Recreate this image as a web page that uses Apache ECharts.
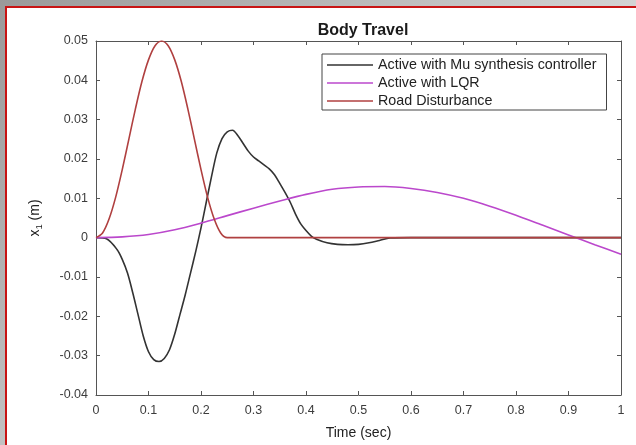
<!DOCTYPE html>
<html>
<head>
<meta charset="utf-8">
<script src="https://cdn.jsdelivr.net/npm/echarts@6/dist/echarts.min.js"></script>
<style>
  html, body { margin: 0; padding: 0; }
  #wrap { position: relative; width: 636px; height: 445px; overflow: hidden;
          background: linear-gradient(135deg, #9a9a9a, #d4d4d4 60%); }
  #frame { position: absolute; left: 5px; top: 6px; right: -4px; bottom: -4px;
           border-left: 2px solid #c81414; border-top: 2px solid #c81414; background: #fff; }
  #chart { position: absolute; left: 0; top: 0; width: 636px; height: 445px; }
</style>
</head>
<body>
<div id="wrap"><div id="frame"></div><div id="chart"></div></div>
<script>
// ---- data ----
const seriesNames = ['Active with Mu synthesis controller', 'Active with LQR', 'Road Disturbance'];

const tMu = [0, 0.02, 0.04, 0.05, 0.06, 0.07, 0.08, 0.09, 0.10, 0.11, 0.12, 0.13, 0.14, 0.15,
  0.16, 0.17, 0.18, 0.19, 0.20, 0.21, 0.22, 0.23, 0.24, 0.25, 0.26, 0.27, 0.28, 0.29, 0.30,
  0.31, 0.32, 0.33, 0.34, 0.35, 0.36, 0.37, 0.38, 0.39, 0.40, 0.41, 0.42, 0.44, 0.46, 0.48,
  0.50, 0.52, 0.54, 0.56, 0.60, 1.0];
const xMu = [0, -0.0003, -0.003, -0.0055, -0.009, -0.014, -0.0195, -0.025, -0.029, -0.031,
  -0.0315, -0.0307, -0.0285, -0.0245, -0.0195, -0.0145, -0.009, -0.0035, 0.0025, 0.009, 0.0155,
  0.0215, 0.0252, 0.0269, 0.0273, 0.026, 0.024, 0.022, 0.0205, 0.0195, 0.0185, 0.0175, 0.016,
  0.0138, 0.0115, 0.009, 0.006, 0.0035, 0.0018, 0.0004, -0.0004, -0.0013, -0.0017, -0.0018,
  -0.0017, -0.0013, -0.0007, -0.0001, 0, 0];

const tLqr = [0, 0.05, 0.1, 0.15, 0.2, 0.25, 0.3, 0.35, 0.4, 0.45, 0.5, 0.55, 0.6, 0.65, 0.7,
  0.75, 0.8, 0.85, 0.9, 0.95, 1.0];
const xLqr = [0, 0.0002, 0.0008, 0.002, 0.0037, 0.0056, 0.0075, 0.0093, 0.0110, 0.0123, 0.0129,
  0.0130, 0.0125, 0.0115, 0.0100, 0.0080, 0.0057, 0.0032, 0.0007, -0.0018, -0.0042];

const tRoad = [0, 0.0125, 0.025, 0.0375, 0.05, 0.0625, 0.075, 0.0875, 0.1, 0.1125, 0.125,
  0.1375, 0.15, 0.1625, 0.175, 0.1875, 0.2, 0.2125, 0.225, 0.2375, 0.25, 1.0];
const xRoad = [0, 0.0012, 0.0048, 0.0103, 0.0173, 0.0250, 0.0327, 0.0397, 0.0452, 0.0488,
  0.0500, 0.0488, 0.0452, 0.0397, 0.0327, 0.0250, 0.0173, 0.0103, 0.0048, 0.0012, 0, 0];

const xTicks = [0, 0.1, 0.2, 0.3, 0.4, 0.5, 0.6, 0.7, 0.8, 0.9, 1];
const yTicks = [-0.04, -0.03, -0.02, -0.01, 0, 0.01, 0.02, 0.03, 0.04, 0.05];

// ---- chart ----
const pair = (ts, vs) => ts.map((t, i) => [t, vs[i]]);
const FONT = 'Liberation Sans, Arial, Helvetica, sans-serif';
const AX = '#555555';
const LBL = '#3c3c3c';
const colors = ['#333333', '#bb48cc', '#b04040'];

const xMin = xTicks[0], xMax = xTicks[xTicks.length - 1];
const yMin = yTicks[0], yMax = yTicks[yTicks.length - 1];
const xStep = +(xTicks[1] - xTicks[0]).toFixed(6);
const yStep = +(yTicks[1] - yTicks[0]).toFixed(6);

const fmtX = v => String(+v.toFixed(2));
const fmtY = v => { const r = +v.toFixed(3); return r === 0 ? '0' : String(r); };

const axLine = { onZero: false, lineStyle: { color: AX, width: 1 } };
const axTick = { inside: true, length: 4, lineStyle: { color: AX } };

const chart = echarts.init(document.getElementById('chart'), null, { renderer: 'canvas' });
chart.setOption({
  backgroundColor: 'transparent',
  animation: false,
  color: colors,
  title: {
    text: 'Body Travel', left: 358, top: 18, textAlign: 'center',
    textStyle: { fontFamily: FONT, fontWeight: 'bold', fontSize: 16, color: '#1a1a1a' }
  },
  grid: { left: 96, right: 15, top: 41, bottom: 45, containLabel: false },
  legend: {
    data: seriesNames, orient: 'vertical', left: 322, top: 54,
    icon: 'rect', itemWidth: 46, itemHeight: 1.5, itemGap: 4,
    padding: [4, 10, 2, 5],
    borderColor: '#444', borderWidth: 1, backgroundColor: '#fff',
    textStyle: { fontFamily: FONT, fontSize: 14.3, color: '#222', lineHeight: 14 }
  },
  xAxis: [{
    type: 'value', min: xMin, max: xMax, interval: xStep, position: 'bottom',
    name: 'Time (sec)', nameLocation: 'middle', nameGap: 31,
    nameTextStyle: { fontFamily: FONT, fontSize: 14, color: '#222' },
    axisLine: axLine, axisTick: axTick,
    axisLabel: { fontFamily: FONT, fontSize: 12.5, color: LBL, margin: 9, formatter: fmtX },
    splitLine: { show: false }
  }, {
    type: 'value', min: xMin, max: xMax, interval: xStep, position: 'top',
    axisLine: axLine, axisTick: axTick,
    axisLabel: { show: false }, splitLine: { show: false }
  }],
  yAxis: [{
    type: 'value', min: yMin, max: yMax, interval: yStep, position: 'left',
    name: '{a|x}{s|1}{a| (m)}', nameLocation: 'middle', nameGap: 52, nameRotate: 90,
    nameTextStyle: {
      rich: {
        a: { fontFamily: FONT, fontSize: 14, color: '#222' },
        s: { fontFamily: FONT, fontSize: 9.5, color: '#222', verticalAlign: 'bottom', padding: [7, 0, 0, 0] }
      }
    },
    axisLine: axLine, axisTick: axTick,
    axisLabel: { fontFamily: FONT, fontSize: 12.5, color: LBL, margin: 8, formatter: fmtY },
    splitLine: { show: false }
  }, {
    type: 'value', min: yMin, max: yMax, interval: yStep, position: 'right',
    axisLine: axLine, axisTick: axTick,
    axisLabel: { show: false }, splitLine: { show: false }
  }],
  series: [
    { name: seriesNames[0], type: 'line', data: pair(tMu, xMu), showSymbol: false, smooth: 0.3,
      lineStyle: { width: 1.6, color: colors[0] }, z: 2 },
    { name: seriesNames[1], type: 'line', data: pair(tLqr, xLqr), showSymbol: false, smooth: 0.3,
      lineStyle: { width: 1.6, color: colors[1] }, z: 3 },
    { name: seriesNames[2], type: 'line', data: pair(tRoad, xRoad), showSymbol: false, smooth: 0.3,
      lineStyle: { width: 1.6, color: colors[2] }, z: 4 }
  ]
});
</script>
</body>
</html>
